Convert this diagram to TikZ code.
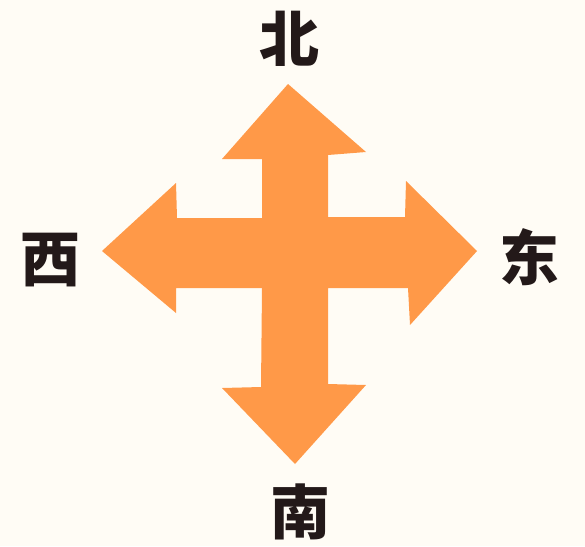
\documentclass[tikz,border=0pt]{standalone}
\usepackage{fontspec}
\newfontfamily\cjk{Noto Sans CJK SC}
\usetikzlibrary{positioning}
\definecolor{bgcream}{RGB}{255,252,245}
\definecolor{arroworange}{RGB}{255,153,72}
\definecolor{inkdark}{RGB}{35,25,25}
\tikzset{dirlabel/.style={text=inkdark, inner sep=0pt, font=\cjk\bfseries\fontsize{60}{64}\selectfont}}

\begin{document}
\begin{tikzpicture}[x=1pt, y=-1pt]
        \fill[bgcream] (0,0) rectangle (585,546);
        \useasboundingbox (0,0) rectangle (585,546);
        % the cross of four arrows
        \fill[arroworange] (288,84) -- (366,152) -- (328,155) -- (328,217) -- (405,217)
          -- (406,181) -- (477,251) -- (410,325) -- (408,288) -- (328,288)
          -- (328,384) -- (366,385) -- (295,464) -- (222,388) -- (261,387)
          -- (262,288) -- (176,288) -- (176,313) -- (102,251) -- (176,183)
          -- (177,218) -- (262,218) -- (262,159) -- (222,159) -- cycle;
        \foreach \name/\px/\py/\word in {bei/289/39/北, xi/50/260/西, dong/529/257/东, nan/300/512/南}{
          \node[dirlabel] (\name) at (\px, \py) {\word};
          }
      \end{tikzpicture}
\end{document}
